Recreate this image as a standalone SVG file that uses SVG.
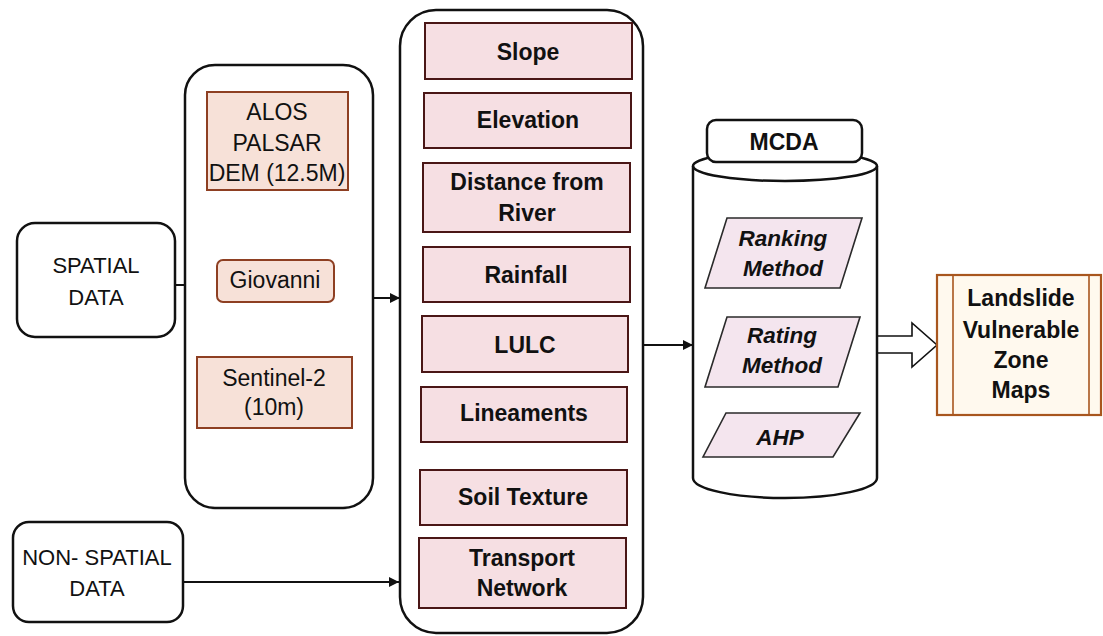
<svg xmlns="http://www.w3.org/2000/svg" width="1103" height="636" viewBox="0 0 1103 636">
  <defs>
    <marker id="arrow" viewBox="0 0 10 10" refX="10" refY="5" markerWidth="10" markerHeight="10" markerUnits="userSpaceOnUse" orient="auto">
      <path d="M0,0 L10,5 L0,10 Z" fill="#111"/>
    </marker>
    <style>
      text { font-family: "Liberation Sans", Arial, sans-serif; font-size: 22px; fill: #111; text-anchor: middle; }
      .l { font-size: 23px; }
      .b { font-weight: bold; font-size: 23px; }
      .bi { font-weight: bold; font-style: italic; font-size: 22.5px; }
      .frame { fill: #fff; stroke: #111; stroke-width: 2.5; }
      .src { fill: #f7e1d8; stroke: #8e3f22; stroke-width: 2; }
      .fac { fill: #f6dfe3; stroke: #4a1616; stroke-width: 2; }
      .meth { fill: #f4e5ee; stroke: #2a2a2a; stroke-width: 1.6; }
      .out { fill: #fff9ee; stroke: #a8561e; stroke-width: 2.2; }
      .link { fill: none; stroke: #111; stroke-width: 2; }
    </style>
  </defs>

  <!-- connectors -->
  <g id="connectors">
    <line class="link" x1="175" y1="285" x2="186" y2="285"/>
    <line class="link" x1="373" y1="298" x2="400" y2="298" marker-end="url(#arrow)"/>
    <line class="link" x1="183" y1="582" x2="399" y2="582" marker-end="url(#arrow)"/>
    <line class="link" x1="643" y1="345" x2="693" y2="345" marker-end="url(#arrow)"/>
    <path d="M877,336 L912,336 L912,323 L937,345 L912,367 L912,353 L877,353 Z" fill="#fff" stroke="#111" stroke-width="1.6"/>
  </g>

  <!-- input data types -->
  <g id="spatial-data">
    <rect class="frame" x="17" y="223" width="158" height="114" rx="18"/>
    <text x="96" y="273">SPATIAL</text>
    <text x="96" y="305">DATA</text>
  </g>

  <g id="non-spatial-data">
    <rect class="frame" x="13" y="522" width="170" height="100" rx="16"/>
    <text x="97" y="565">NON- SPATIAL</text>
    <text x="97" y="596">DATA</text>
  </g>

  <!-- data sources -->
  <g id="sources">
    <rect class="frame" x="185" y="65" width="188" height="443" rx="30"/>
    <g id="alos">
      <rect class="src" x="207" y="92" width="141" height="98"/>
      <text class="l" x="277" y="120">ALOS</text>
      <text class="l" x="277" y="151">PALSAR</text>
      <text class="l" x="277" y="181">DEM (12.5M)</text>
    </g>
    <g id="giovanni">
      <rect class="src" x="217" y="260" width="117" height="42" rx="6"/>
      <text class="l" x="275" y="288">Giovanni</text>
    </g>
    <g id="sentinel">
      <rect class="src" x="197" y="357" width="155" height="71"/>
      <text class="l" x="274" y="386">Sentinel-2</text>
      <text class="l" x="274" y="415">(10m)</text>
    </g>
  </g>

  <!-- thematic factors -->
  <g id="factors">
    <rect class="frame" x="400" y="10" width="243" height="623" rx="36"/>
    <g id="slope">
      <rect class="fac" x="425" y="23" width="207" height="56"/>
      <text class="b" x="528" y="60">Slope</text>
    </g>
    <g id="elevation">
      <rect class="fac" x="424" y="93" width="207" height="55"/>
      <text class="b" x="528" y="128">Elevation</text>
    </g>
    <g id="distance-river">
      <rect class="fac" x="423" y="163" width="207" height="69"/>
      <text class="b" x="527" y="190">Distance from</text>
      <text class="b" x="527" y="221">River</text>
    </g>
    <g id="rainfall">
      <rect class="fac" x="423" y="247" width="207" height="55"/>
      <text class="b" x="526" y="283">Rainfall</text>
    </g>
    <g id="lulc">
      <rect class="fac" x="422" y="316" width="206" height="56"/>
      <text class="b" x="525" y="353">LULC</text>
    </g>
    <g id="lineaments">
      <rect class="fac" x="421" y="387" width="206" height="55"/>
      <text class="b" x="524" y="421">Lineaments</text>
    </g>
    <g id="soil-texture">
      <rect class="fac" x="420" y="470" width="207" height="55"/>
      <text class="b" x="523" y="505">Soil Texture</text>
    </g>
    <g id="transport">
      <rect class="fac" x="419" y="538" width="207" height="70"/>
      <text class="b" x="522" y="566">Transport</text>
      <text class="b" x="522" y="596">Network</text>
    </g>
  </g>

  <!-- MCDA cylinder -->
  <g id="mcda">
    <path d="M693,166 A92,15 0 0 1 877,166 L877,478 A92,20 0 0 1 693,478 Z" fill="#fff" stroke="#111" stroke-width="2.5"/>
    <path d="M693,166 A92,15 0 0 0 877,166" fill="none" stroke="#111" stroke-width="2.5"/>
    <rect class="frame" x="707" y="120" width="155" height="42" rx="9"/>
    <text class="b" x="784" y="150">MCDA</text>
    <g id="ranking">
      <polygon class="meth" points="727,218 862,218 840,288 705,288"/>
      <text class="bi" x="783" y="246">Ranking</text>
      <text class="bi" x="783" y="276">Method</text>
    </g>
    <g id="rating">
      <polygon class="meth" points="727,317 860,317 838,387 705,387"/>
      <text class="bi" x="782" y="343">Rating</text>
      <text class="bi" x="782" y="373">Method</text>
    </g>
    <g id="ahp">
      <polygon class="meth" points="726,413 860,413 833,457 703,457"/>
      <text class="bi" x="780" y="445">AHP</text>
    </g>
  </g>

  <!-- output -->
  <g id="output">
    <rect class="out" x="937" y="275" width="164" height="140"/>
    <line x1="953" y1="275" x2="953" y2="415" stroke="#a8561e" stroke-width="1.6"/>
    <line x1="1089" y1="275" x2="1089" y2="415" stroke="#a8561e" stroke-width="1.6"/>
    <text class="b" x="1021" y="306">Landslide</text>
    <text class="b" x="1021" y="338">Vulnerable</text>
    <text class="b" x="1021" y="368">Zone</text>
    <text class="b" x="1021" y="398">Maps</text>
  </g>
</svg>
